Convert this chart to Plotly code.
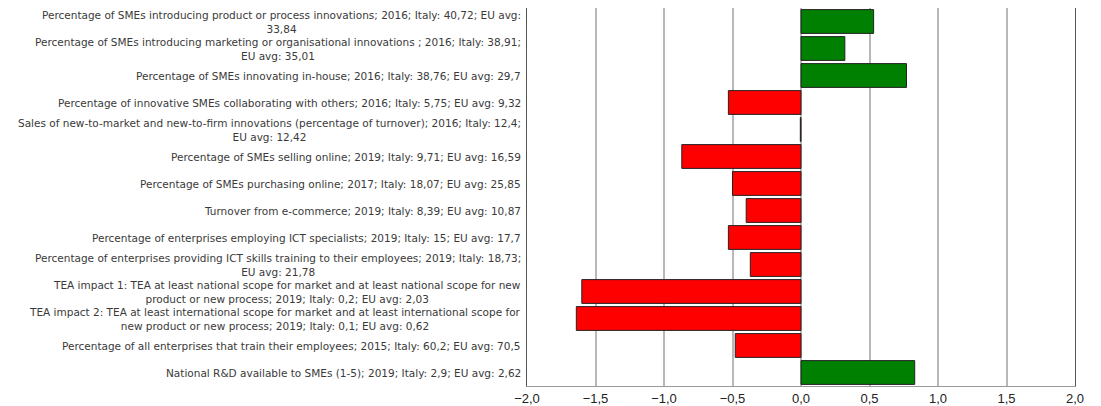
import plotly.graph_objects as go

labels = [
    "Percentage of SMEs introducing product or process innovations; 2016; Italy: 40,72; EU avg:<br>33,84",
    "Percentage of SMEs introducing marketing or organisational innovations ; 2016; Italy: 38,91;<br>EU avg: 35,01",
    "Percentage of SMEs innovating in-house; 2016; Italy: 38,76; EU avg: 29,7",
    "Percentage of innovative SMEs collaborating with others; 2016; Italy: 5,75; EU avg: 9,32",
    "Sales of new-to-market and new-to-firm innovations (percentage of turnover); 2016; Italy: 12,4;<br>EU avg: 12,42",
    "Percentage of SMEs selling online; 2019; Italy: 9,71; EU avg: 16,59",
    "Percentage of SMEs purchasing online; 2017; Italy: 18,07; EU avg: 25,85",
    "Turnover from e-commerce; 2019; Italy: 8,39; EU avg: 10,87",
    "Percentage of enterprises employing ICT specialists; 2019; Italy: 15; EU avg: 17,7",
    "Percentage of enterprises providing ICT skills training to their employees; 2019; Italy: 18,73;<br>EU avg: 21,78",
    "TEA impact 1: TEA at least national scope for market and at least national scope for new<br>product or new process; 2019; Italy: 0,2; EU avg: 2,03",
    "TEA impact 2: TEA at least international scope for market and at least international scope for<br>new product or new process; 2019; Italy: 0,1; EU avg: 0,62",
    "Percentage of all enterprises that train their employees; 2015; Italy: 60,2; EU avg: 70,5",
    "National R&D available to SMEs (1-5); 2019; Italy: 2,9; EU avg: 2,62",
]
values = [0.53, 0.32, 0.77, -0.53, -0.005, -0.87, -0.50, -0.40, -0.53, -0.37, -1.60, -1.64, -0.48, 0.83]
x_ticks = [-2.0, -1.5, -1.0, -0.5, 0.0, 0.5, 1.0, 1.5, 2.0]

colors = ["#008000" if v >= 0 else "#ff0000" for v in values]
cats = list(range(len(labels)))

fig = go.Figure(go.Bar(
    x=values, y=cats, orientation="h",
    marker=dict(color=colors, line=dict(color="#222222", width=1)),
    width=0.88,
))

for i, lab in enumerate(labels):
    fig.add_annotation(
        x=0, xref="paper", y=i, yref="y", text=lab, showarrow=False,
        xanchor="right", yanchor="middle", align="center", xshift=-4,
        font=dict(family="DejaVu Sans, sans-serif", size=10.5, color="#3a3a3a"),
    )

# page body adds an 8px offset, so the figure is sized to fit the window
fig.update_layout(
    width=1093, height=398,
    margin=dict(l=519, r=26, t=0, b=20),
    paper_bgcolor="white", plot_bgcolor="white",
    separators=",.",
    showlegend=False,
    font=dict(family="Liberation Sans, Arial, sans-serif"),
    xaxis=dict(
        range=[-2, 2], tickvals=x_ticks, tickformat=".1f",
        showgrid=True, gridcolor="#b8b8b8", gridwidth=2,
        zeroline=False, showline=True, linecolor="#999999", linewidth=1, mirror=True,
        tickfont=dict(size=13, color="#222222"), ticks="",
    ),
    yaxis=dict(
        range=[len(labels) - 0.5, -0.5], showticklabels=False, showgrid=False,
        zeroline=False, showline=True, linecolor="#555555", linewidth=1, mirror=True,
    ),
)

fig.write_html("out.html")
